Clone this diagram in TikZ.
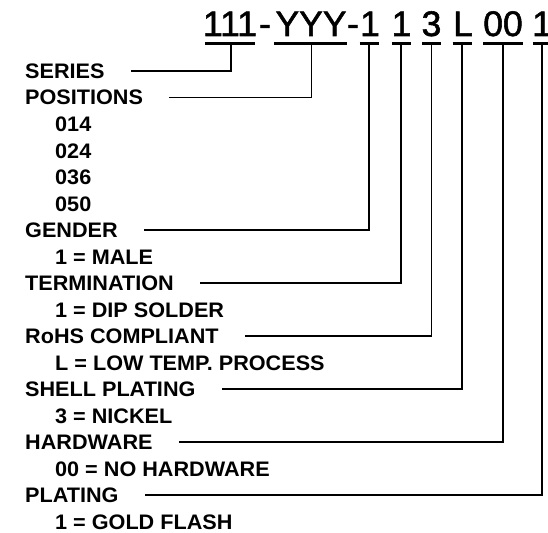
\documentclass[tikz,border=0pt]{standalone}
\usepackage{fontspec}
\setmainfont[FakeStretch=1.03]{Liberation Sans}
\newfontfamily\ttlfont[FakeBold=1.5]{Liberation Sans}
\begin{document}
\begin{tikzpicture}[x=1pt,y=-1pt,
  lbl/.style={anchor=west, inner sep=0pt, text height=15pt, text depth=0pt,
              font=\fontsize{21}{21}\selectfont\bfseries},
  sub/.style={lbl},
  ttl/.style={anchor=base, inner sep=0pt, font=\ttlfont\fontsize{35.5}{35.5}\selectfont},
  conn/.style={line width=1.4pt, line join=miter},
  uline/.style={line width=2.7pt}]
\useasboundingbox (0,0) rectangle (548,532);

% part number pieces
\node[ttl] (g1) at (230,36) {111};
\node[ttl] (d1) at (265,36) {-};
\node[ttl] (g2) at (311,36) {YYY};
\node[ttl] (d2) at (353,36) {-};
\node[ttl] (g3) at (370,36) {1};
\node[ttl] (g4) at (401.5,36) {1};
\node[ttl] (g5) at (431.5,36) {3};
\node[ttl] (g6) at (463,36) {L};
\node[ttl] (g7) at (503,36) {00};
\node[ttl, anchor=base west] (g8) at (532,36) {\makebox[14pt][l]{1}};

% underline anchor points
\coordinate (u1) at (231,43.3);
\coordinate (u2) at (311.5,43.3);
\coordinate (u3) at (369,43.3);
\coordinate (u4) at (401,43.3);
\coordinate (u5) at (431.5,43.3);
\coordinate (u6) at (462,43.3);
\coordinate (u7) at (503,43.3);
\coordinate (u8) at (542,43.3);

\draw[uline] ([xshift=-26pt]u1) -- ([xshift=24pt]u1);
\draw[uline] ([xshift=-37.5pt]u2) -- ([xshift=35.5pt]u2);
\foreach \u in {u3,u4,u5,u6}{\draw[uline] ([xshift=-9.5pt]\u) -- ([xshift=9.5pt]\u);}
\draw[uline] ([xshift=-20pt]u7) -- ([xshift=20pt]u7);
\draw[uline] ([xshift=-9pt]u8) -- ([xshift=9pt]u8);

% labels
\node[lbl] (series) at (25,71) {SERIES};
\node[lbl] (positions) at (25,97.5) {POSITIONS};
\node[sub] (p014) at (55,124) {014};
\node[sub] (p024) at (55,150.5) {024};
\node[sub] (p036) at (55,177) {036};
\node[sub] (p050) at (55,203.5) {050};
\node[lbl] (gender) at (25,230) {GENDER};
\node[sub] (male) at (55,256.5) {1 = MALE};
\node[lbl] (term) at (25,283) {TERMINATION};
\node[sub] (dip) at (55,309.5) {1 = DIP SOLDER};
\node[lbl] (rohs) at (25,336) {RoHS COMPLIANT};
\node[sub] (low) at (55,362.5) {L = LOW TEMP. PROCESS};
\node[lbl] (shell) at (25,389) {SHELL PLATING};
\node[sub] (nickel) at (55,415.5) {3 = NICKEL};
\node[lbl] (hard) at (25,442) {HARDWARE};
\node[sub] (nohard) at (55,468.5) {00 = NO HARDWARE};
\node[lbl] (plating) at (25,495) {PLATING};
\node[sub] (gold) at (55,521.5) {1 = GOLD FLASH};

% connectors
\draw[conn] (u1) |- ([xshift=26pt]series.east);
\draw[conn] (u2) |- ([xshift=26pt]positions.east);
\draw[conn] (u3) |- ([xshift=26pt]gender.east);
\draw[conn] (u4) |- ([xshift=26pt]term.east);
\draw[conn] (u5) |- ([xshift=26pt]rohs.east);
\draw[conn] (u6) |- ([xshift=26pt]shell.east);
\draw[conn] (u7) |- ([xshift=26pt]hard.east);
\draw[conn] (u8) |- ([xshift=26pt]plating.east);
\end{tikzpicture}
\end{document}
